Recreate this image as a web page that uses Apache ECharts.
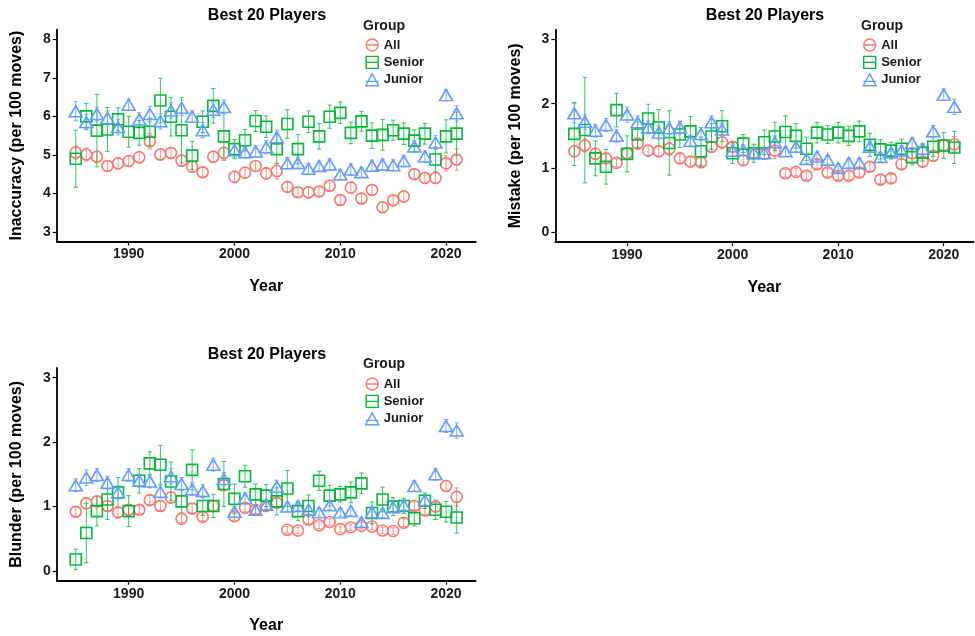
<!DOCTYPE html>
<html>
<head>
<meta charset="utf-8">
<script src="https://cdn.jsdelivr.net/npm/echarts@6/dist/echarts.min.js"></script>
<style>
  html, body { margin: 0; padding: 0; background: #fff; }
  #chart { width: 975px; height: 636px; }
</style>
</head>
<body>
<div id="chart"></div>
<script>
// Best 20 players per year: inaccuracies, mistakes and blunders per 100 moves,
// by group, with mean ± error bars.
const years = [1985,1986,1987,1988,1989,1990,1991,1992,1993,1994,
               1995,1996,1997,1998,1999,2000,2001,2002,2003,2004,
               2005,2006,2007,2008,2009,2010,2011,2012,2013,2014,
               2015,2016,2017,2018,2019,2020,2021];
const groups = ['All', 'Senior', 'Junior'];
const xTicks = [1990, 2000, 2010, 2020];

// Inaccuracy
const inaccAll = [5.06,5.01,4.95,4.71,4.78,4.84,4.94,5.35,5.01,5.05,
                  4.85,4.69,4.55,4.95,5.05,4.43,4.54,4.71,4.52,4.58,
                  4.17,4.03,4.03,4.05,4.20,3.83,4.15,3.87,4.09,3.64,
                  3.82,3.92,4.50,4.40,4.40,4.78,4.88];
const inaccAllErr = [0.17,0.17,0.15,0.13,0.14,0.14,0.15,0.20,0.15,0.13,
                     0.15,0.14,0.12,0.15,0.15,0.15,0.13,0.14,0.15,0.21,
                     0.13,0.12,0.15,0.12,0.13,0.12,0.14,0.12,0.13,0.12,
                     0.12,0.15,0.12,0.14,0.14,0.20,0.28];
const inaccSenior = [4.90,6.00,5.63,5.66,5.92,5.60,5.57,5.60,6.41,5.99,
                     5.64,4.98,5.86,6.27,5.48,5.15,5.38,5.88,5.73,5.15,
                     5.80,5.15,5.86,5.48,5.99,6.09,5.57,5.87,5.50,5.52,
                     5.64,5.55,5.37,5.55,4.88,5.48,5.55];
const inaccSeniorErr = [0.74,0.33,0.94,0.57,0.30,0.40,0.32,0.35,0.58,0.50,
                        0.85,0.37,0.28,0.45,0.62,0.25,0.28,0.27,0.28,0.38,
                        0.37,0.38,0.28,0.33,0.30,0.28,0.28,0.26,0.33,0.40,
                        0.26,0.28,0.28,0.27,0.32,0.43,0.56];
const inaccJunior = [6.13,5.85,6.06,5.96,5.72,6.30,5.92,6.06,5.87,6.15,
                     6.22,5.99,5.64,6.17,6.24,5.12,5.07,5.09,5.20,5.46,
                     4.78,4.79,4.64,4.71,4.75,4.49,4.62,4.55,4.72,4.75,
                     4.73,4.84,5.22,4.96,5.32,6.55,6.08];
const inaccJuniorErr = [0.25,0.20,0.18,0.18,0.20,0.15,0.17,0.20,0.20,0.20,
                        0.20,0.15,0.20,0.20,0.18,0.18,0.15,0.15,0.17,0.18,
                        0.15,0.15,0.14,0.13,0.15,0.13,0.15,0.13,0.14,0.14,
                        0.14,0.15,0.15,0.15,0.18,0.15,0.20];

// Mistake
const mistakeAll = [1.26,1.35,1.22,1.15,1.08,1.23,1.38,1.27,1.26,1.30,
                    1.15,1.10,1.09,1.33,1.40,1.33,1.12,1.23,1.22,1.27,
                    0.92,0.94,0.88,1.06,0.93,0.88,0.88,0.93,1.02,0.82,
                    0.84,1.06,1.23,1.10,1.19,1.35,1.37];
const mistakeAllErr = [0.08,0.10,0.08,0.07,0.06,0.08,0.08,0.08,0.07,0.10,
                       0.07,0.07,0.07,0.08,0.10,0.07,0.07,0.07,0.08,0.12,
                       0.06,0.06,0.06,0.07,0.06,0.06,0.06,0.06,0.07,0.06,
                       0.06,0.07,0.08,0.07,0.07,0.10,0.12];
const mistakeSenior = [1.53,1.59,1.15,1.02,1.90,1.22,1.52,1.77,1.63,1.39,
                       1.52,1.57,1.26,1.49,1.65,1.23,1.38,1.23,1.40,1.49,
                       1.56,1.50,1.30,1.55,1.52,1.55,1.50,1.57,1.36,1.29,
                       1.27,1.30,1.17,1.24,1.33,1.35,1.32];
const mistakeSeniorErr = [0.49,0.82,0.27,0.27,0.26,0.28,0.20,0.22,0.28,0.50,
                          0.20,0.23,0.22,0.20,0.24,0.16,0.14,0.14,0.19,0.22,
                          0.25,0.19,0.18,0.16,0.14,0.16,0.15,0.16,0.18,0.15,
                          0.13,0.15,0.12,0.13,0.15,0.20,0.25];
const mistakeJunior = [1.85,1.72,1.58,1.67,1.50,1.83,1.71,1.63,1.55,1.62,
                       1.63,1.42,1.53,1.71,1.60,1.27,1.28,1.24,1.23,1.40,
                       1.26,1.33,1.14,1.18,1.13,1.00,1.08,1.08,1.33,1.17,
                       1.24,1.27,1.39,1.30,1.57,2.14,1.95];
const mistakeJuniorErr = [0.15,0.12,0.10,0.10,0.10,0.12,0.10,0.10,0.10,0.10,
                          0.10,0.09,0.10,0.10,0.10,0.09,0.08,0.08,0.08,0.10,
                          0.08,0.08,0.07,0.07,0.07,0.07,0.07,0.07,0.08,0.07,
                          0.07,0.08,0.08,0.08,0.09,0.09,0.12];

// Blunder
const blunderAll = [0.92,1.05,1.08,1.01,0.91,0.95,0.95,1.10,1.01,1.14,
                    0.81,0.97,0.84,1.01,1.33,0.85,0.98,0.95,1.01,1.06,
                    0.64,0.63,0.80,0.71,0.76,0.65,0.68,0.70,0.69,0.63,
                    0.62,0.75,1.01,0.94,1.00,1.32,1.15];
const blunderAllErr = [0.07,0.08,0.08,0.07,0.07,0.07,0.06,0.07,0.07,0.08,
                       0.06,0.07,0.06,0.07,0.08,0.06,0.06,0.06,0.06,0.07,
                       0.05,0.05,0.06,0.05,0.05,0.05,0.05,0.05,0.05,0.05,
                       0.05,0.06,0.06,0.06,0.07,0.08,0.14];
const blunderSenior = [0.18,0.59,0.93,1.11,1.22,0.93,1.40,1.67,1.65,1.39,
                       1.08,1.57,1.01,1.01,1.35,1.12,1.47,1.19,1.17,1.08,
                       1.28,0.93,1.01,1.40,1.17,1.19,1.22,1.36,0.90,1.11,
                       1.00,1.01,0.82,1.09,0.95,0.92,0.83];
const blunderSeniorErr = [0.16,0.46,0.23,0.31,0.23,0.24,0.19,0.18,0.30,0.30,
                          0.18,0.31,0.15,0.18,0.35,0.23,0.17,0.16,0.17,0.21,
                          0.28,0.15,0.17,0.15,0.16,0.12,0.16,0.16,0.17,0.19,
                          0.14,0.12,0.12,0.12,0.15,0.16,0.24];
const blunderJunior = [1.33,1.45,1.49,1.37,1.22,1.49,1.40,1.39,1.23,1.47,
                       1.35,1.27,1.24,1.65,1.43,0.92,1.13,0.95,1.03,1.31,
                       1.00,1.01,0.95,0.91,1.02,0.91,0.93,0.76,0.91,0.90,
                       0.99,1.02,1.32,1.10,1.50,2.25,2.18];
const blunderJuniorErr = [0.10,0.12,0.10,0.10,0.10,0.10,0.10,0.10,0.10,0.12,
                          0.10,0.10,0.10,0.10,0.10,0.08,0.08,0.07,0.07,0.10,
                          0.07,0.07,0.07,0.07,0.07,0.06,0.07,0.06,0.07,0.07,
                          0.07,0.07,0.08,0.08,0.09,0.10,0.12];

const inaccTicks = [3, 4, 5, 6, 7, 8];
const rateTicks = [0, 1, 2, 3];

// ---- layout / styling ----
const FONT = '"Liberation Sans", Arial, sans-serif';
const colors = { All: '#F8766D', Senior: '#00BA38', Junior: '#619CFF' };
const symbols = { All: 'circle', Senior: 'rect', Junior: 'triangle' };
const symbolSizes = { All: 11, Senior: 11, Junior: [13, 11] };

const panels = [
  { yName: 'Inaccuracy (per 100 moves)', ymin: 2.75, ymax: 8.25, yTicks: inaccTicks,
    values: { All: inaccAll, Senior: inaccSenior, Junior: inaccJunior },
    errs: { All: inaccAllErr, Senior: inaccSeniorErr, Junior: inaccJuniorErr },
    grid: { left: 56.7, top: 29.6, width: 419, height: 212 },
    titleX: 267, titleY: 16, groupX: 363, groupY: 26, legendX: 365, legendY: 38.3 },
  { yName: 'Mistake (per 100 moves)', ymin: -0.15, ymax: 3.15, yTicks: rateTicks,
    values: { All: mistakeAll, Senior: mistakeSenior, Junior: mistakeJunior },
    errs: { All: mistakeAllErr, Senior: mistakeSeniorErr, Junior: mistakeJuniorErr },
    grid: { left: 555.3, top: 29.6, width: 418, height: 212.5 },
    titleX: 765, titleY: 16, groupX: 861, groupY: 26, legendX: 862.5, legendY: 38.3 },
  { yName: 'Blunder (per 100 moves)', ymin: -0.15, ymax: 3.15, yTicks: rateTicks,
    values: { All: blunderAll, Senior: blunderSenior, Junior: blunderJunior },
    errs: { All: blunderAllErr, Senior: blunderSeniorErr, Junior: blunderJuniorErr },
    grid: { left: 56.7, top: 368, width: 419, height: 212.7 },
    titleX: 267, titleY: 355, groupX: 363, groupY: 364, legendX: 365, legendY: 377.3 }
];

// legend keys: point shape crossed by the error-bar stroke
const legendIcons = {
  All: 'path://M0,6 L12,6 M12,6 A6,6 0 1,1 0,6 A6,6 0 1,1 12,6 Z',
  Senior: 'path://M0,0 L12,0 L12,12 L0,12 Z M0,6 L12,6',
  Junior: 'path://M6,0 L12,11 L0,11 Z M0,7 L12,7'
};

const axisLineStyle = { color: '#000', width: 1.8 };
const tickLabelStyle = { color: '#1a1a1a', fontSize: 14, fontWeight: 'bold', fontFamily: FONT };
const nameStyle = { color: '#000', fontSize: 16, fontWeight: 'bold', fontFamily: FONT };

const grid = [], xAxis = [], yAxis = [], series = [], legend = [], graphic = [];

panels.forEach((p, i) => {
  grid.push(Object.assign({ containLabel: false }, p.grid));
  xAxis.push({
    type: 'value', gridIndex: i, min: 1983.2, max: 2022.8,
    name: 'Year', nameLocation: 'middle', nameGap: 37, nameTextStyle: nameStyle,
    axisLine: { show: true, onZero: false, lineStyle: axisLineStyle },
    axisTick: { show: true, length: 4, customValues: xTicks, lineStyle: { color: '#000', width: 1.2 } },
    axisLabel: { customValues: xTicks, margin: 6, formatter: v => String(v), ...tickLabelStyle },
    splitLine: { show: false }
  });
  yAxis.push({
    type: 'value', gridIndex: i, min: p.ymin, max: p.ymax,
    name: p.yName, nameLocation: 'middle', nameGap: 32, nameRotate: 90, nameTextStyle: nameStyle,
    axisLine: { show: true, onZero: false, lineStyle: axisLineStyle },
    axisTick: { show: true, length: 4, customValues: p.yTicks, lineStyle: { color: '#000', width: 1.2 } },
    axisLabel: { customValues: p.yTicks, margin: 6, formatter: v => String(v), ...tickLabelStyle },
    splitLine: { show: false }
  });

  groups.forEach(g => {
    const col = colors[g];
    const vals = p.values[g];
    const errs = p.errs[g];
    // error bars: vertical stroke with short caps
    series.push({
      type: 'custom', name: g, xAxisIndex: i, yAxisIndex: i,
      data: years.map((y, k) => [y, vals[k] - errs[k], vals[k] + errs[k]]),
      renderItem: (params, api) => {
        const x = api.value(0);
        const lo = api.coord([x, api.value(1)]);
        const hi = api.coord([x, api.value(2)]);
        const hw = 2.2;
        const st = { stroke: col, lineWidth: 1, opacity: 0.8 };
        return {
          type: 'group',
          children: [
            { type: 'line', shape: { x1: hi[0], y1: hi[1], x2: lo[0], y2: lo[1] }, style: st },
            { type: 'line', shape: { x1: hi[0] - hw, y1: hi[1], x2: hi[0] + hw, y2: hi[1] }, style: st },
            { type: 'line', shape: { x1: lo[0] - hw, y1: lo[1], x2: lo[0] + hw, y2: lo[1] }, style: st }
          ]
        };
      },
      itemStyle: { color: col },
      silent: true, z: 2
    });
    series.push({
      type: 'scatter', name: g, xAxisIndex: i, yAxisIndex: i,
      data: years.map((y, k) => [y, vals[k]]),
      symbol: symbols[g], symbolSize: symbolSizes[g],
      itemStyle: { color: 'rgba(0,0,0,0)', borderColor: col, borderWidth: 1.6, opacity: 1 },
      emphasis: { disabled: true },
      silent: true, z: 3
    });
  });

  legend.push({
    left: p.legendX, top: p.legendY, orient: 'vertical',
    itemWidth: 13, itemHeight: 12, itemGap: 4, padding: 0,
    selectedMode: false,
    textStyle: { color: '#1a1a1a', fontSize: 13, fontWeight: 'bold', fontFamily: FONT, lineHeight: 12 },
    data: groups.map(g => ({
      name: g, icon: legendIcons[g],
      itemStyle: { color: 'rgba(0,0,0,0)', borderColor: colors[g], borderWidth: 1.4 }
    }))
  });

  graphic.push({
    type: 'text', x: p.titleX, y: p.titleY, silent: true,
    style: { text: 'Best 20 Players', fill: '#000', font: 'bold 16px ' + FONT,
             textAlign: 'center', textVerticalAlign: 'middle' }
  });
  graphic.push({
    type: 'text', x: p.groupX, y: p.groupY, silent: true,
    style: { text: 'Group', fill: '#1a1a1a', font: 'bold 14px ' + FONT,
             textAlign: 'left', textVerticalAlign: 'middle' }
  });
});

const chart = echarts.init(document.getElementById('chart'), null, { renderer: 'canvas' });
chart.setOption({
  backgroundColor: '#fff',
  animation: false,
  grid, xAxis, yAxis, series, legend, graphic
});
</script>
</body>
</html>
